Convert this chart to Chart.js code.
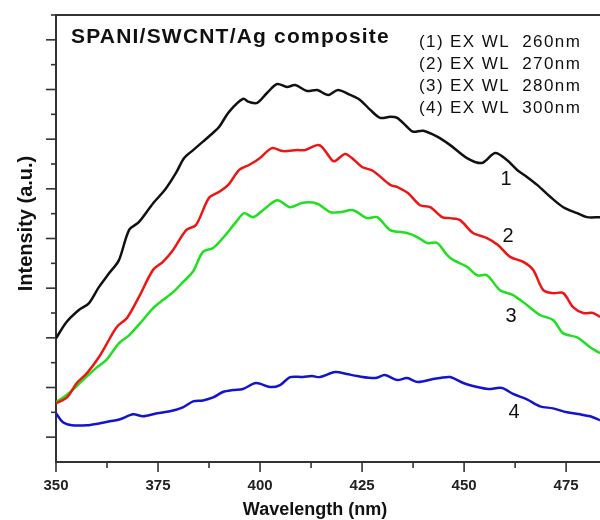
<!DOCTYPE html>
<html>
<head>
<meta charset="utf-8">
<script src="https://cdn.jsdelivr.net/npm/chart.js@4.4.1/dist/chart.umd.min.js"></script>
<style>
  html, body { margin: 0; padding: 0; background: #fff; }
  #wrap { width: 600px; height: 520px; }
</style>
</head>
<body>
<div id="wrap"><canvas id="plChart" width="600" height="520"></canvas></div>
<script>
// emission spectra (wavelength in nm, intensity in a.u.)
const wl1 = [350.0,352.5,355.6,358.1,360.5,363.0,365.4,367.9,370.3,373.8,376.7,379.4,381.4,383.6,386.0,388.5,390.0,392.4,395.8,397.3,399.3,401.7,404.2,406.6,408.6,411.5,414.0,416.7,419.1,422.1,424.5,427.0,429.4,431.9,433.6,436.0,437.5,440.0,443.4,446.6,450.7,454.4,457.6,460.5,463.0,465.4,467.9,471.1,474.3,477.7,480.1,483.3];
const int1 = [249,281,306,320,352,380,406,467,483,521,548,582,612,628,645,663,675,705,731,725,723,743,761,755,759,747,749,739,749,739,729,709,693,695,693,675,665,667,655,638,612,602,622,608,588,574,558,534,513,501,493,493];

const wl2 = [350.0,352.7,355.1,357.6,360.5,362.5,364.9,367.4,370.3,373.8,376.2,378.7,381.9,384.3,387.5,390.0,392.2,394.9,397.3,400.0,402.9,405.6,409.1,411.0,414.0,415.2,417.6,418.4,420.8,422.5,425.0,427.7,431.9,433.8,436.3,439.2,441.7,444.6,446.6,449.0,452.2,455.6,458.3,461.3,464.5,466.9,469.4,471.8,474.3,476.7,479.2,481.6,483.3];
const int2 = [118,130,159,179,211,239,272,290,332,387,403,427,467,477,532,544,558,588,598,612,632,626,628,628,638,634,608,606,620,612,594,586,558,553,541,517,513,493,491,487,461,451,437,413,403,387,346,340,340,312,300,300,292];

const wl3 = [350.0,353.2,356.6,359.8,362.3,365.4,367.9,371.3,373.8,376.2,378.7,381.1,383.6,386.0,388.5,390.9,394.1,396.1,398.3,400.7,404.2,407.4,410.5,414.0,417.2,419.6,422.8,426.2,428.7,431.9,436.0,438.5,440.9,443.4,445.8,447.3,450.7,453.2,455.6,458.8,462.0,465.4,468.6,471.8,474.3,477.7,480.9,483.3];
const int3 = [120,139,165,189,205,239,255,286,310,326,342,362,384,423,431,451,483,501,493,507,527,513,522,520,503,503,507,491,493,467,461,453,441,441,417,407,393,376,376,346,336,316,296,286,259,251,231,219];

const wl4 = [350.0,351.7,353.9,357.6,360.8,363.2,365.7,368.9,371.3,374.8,377.9,381.1,383.6,386.0,388.5,390.9,393.4,395.8,399.0,402.5,404.9,407.4,410.5,412.7,414.7,418.4,421.3,423.8,428.2,430.6,433.6,436.0,438.7,442.4,444.1,446.6,449.8,453.2,455.9,459.3,462.0,465.4,468.6,471.8,475.2,478.4,480.9,483.3];
const int4 = [98,80,74,74,78,82,86,96,92,98,102,110,122,124,130,141,145,147,159,151,155,171,171,173,171,181,177,173,169,175,165,169,161,167,169,171,159,151,147,149,137,126,112,108,100,96,92,84];

const seriesLabels = ['(1) EX WL  260nm', '(2) EX WL  270nm', '(3) EX WL  280nm', '(4) EX WL  300nm'];
const curveTags = ['1', '2', '3', '4'];
const xTickValues = [350, 375, 400, 425, 450, 475];

const FONT = '"Liberation Sans", Arial, sans-serif';

function pairs(xs, ys) {
  return xs.map((x, i) => ({ x: x, y: ys[i] }));
}

function line(label, xs, ys, color) {
  return {
    label: label,
    data: pairs(xs, ys),
    borderColor: color,
    borderWidth: 2.5,
    pointRadius: 0,
    fill: false,
    tension: 0.3
  };
}

// tick marks, top frame line and all the annotation text
const decor = {
  id: 'decor',
  afterDraw(chart) {
    const ctx = chart.ctx;
    const xs = chart.scales.x;
    const ys = chart.scales.y;
    const area = chart.chartArea;
    ctx.save();
    ctx.strokeStyle = '#333';
    ctx.lineWidth = 2;

    ctx.beginPath();
    ctx.moveTo(area.left - 1, area.top);
    ctx.lineTo(area.right, area.top);
    ctx.stroke();

    ctx.lineWidth = 1.6;
    for (let v = 350; v <= 483; v += 12.5) {
      const px = xs.getPixelForValue(v);
      const len = (v % 25 === 0) ? 10 : 6;
      ctx.beginPath();
      ctx.moveTo(px, area.bottom);
      ctx.lineTo(px, area.bottom + len);
      ctx.stroke();
    }
    for (let v = 50; v <= 900; v += 50) {
      const py = ys.getPixelForValue(v);
      const len = (v % 100 === 50) ? 10 : 5;
      ctx.beginPath();
      ctx.moveTo(area.left, py);
      ctx.lineTo(area.left - len, py);
      ctx.stroke();
    }

    ctx.fillStyle = '#111';
    ctx.textBaseline = 'alphabetic';
    ctx.textAlign = 'left';
    ctx.font = 'bold 21px ' + FONT;
    ctx.letterSpacing = '1.2px';
    ctx.fillText('SPANI/SWCNT/Ag composite', 71, 43);

    ctx.font = '17px ' + FONT;
    ctx.letterSpacing = '1.4px';
    seriesLabels.forEach((t, i) => ctx.fillText(t, 419, 47 + i * 22));

    ctx.letterSpacing = '0px';
    ctx.textAlign = 'center';
    ctx.font = '20px ' + FONT;
    const tagPos = [[506, 185], [508, 242], [511, 322], [514, 418]];
    curveTags.forEach((t, i) => ctx.fillText(t, tagPos[i][0], tagPos[i][1]));

    ctx.font = 'bold 18px ' + FONT;
    ctx.fillText('Wavelength (nm)', 315, 515);

    ctx.translate(31.5, 223.5);
    ctx.rotate(-Math.PI / 2);
    ctx.font = 'bold 20px ' + FONT;
    ctx.fillText('Intensity (a.u.)', 0, 0);
    ctx.restore();
  }
};

const el = document.getElementById('plChart');

const plChart = new Chart(el, {
  type: 'line',
  data: {
    datasets: [
      line(seriesLabels[0], wl1, int1, '#111111'),
      line(seriesLabels[1], wl2, int2, '#ee1515'),
      line(seriesLabels[2], wl3, int3, '#1ee01e'),
      line(seriesLabels[3], wl4, int4, '#1414cc')
    ]
  },
  options: {
    responsive: false,
    animation: false,
    layout: { padding: { top: 15, left: 0, right: 0, bottom: 0 } },
    plugins: {
      legend: { display: false },
      tooltip: { enabled: false }
    },
    scales: {
      x: {
        type: 'linear',
        min: 350,
        max: 483.3,
        afterFit(scale) { scale.height = 58; },
        grid: { display: false },
        border: { display: true, color: '#333', width: 2 },
        ticks: {
          stepSize: 25,
          includeBounds: false,
          padding: 7,
          color: '#222',
          font: { family: FONT, size: 15, weight: 'bold' },
          maxRotation: 0,
          callback: (v) => xTickValues.includes(v) ? String(v) : ''
        }
      },
      y: {
        min: 0,
        max: 900,
        afterFit(scale) { scale.width = 56; },
        grid: { display: false },
        border: { display: true, color: '#333', width: 2 },
        ticks: { display: false }
      }
    }
  },
  plugins: [decor]
});
</script>
</body>
</html>
